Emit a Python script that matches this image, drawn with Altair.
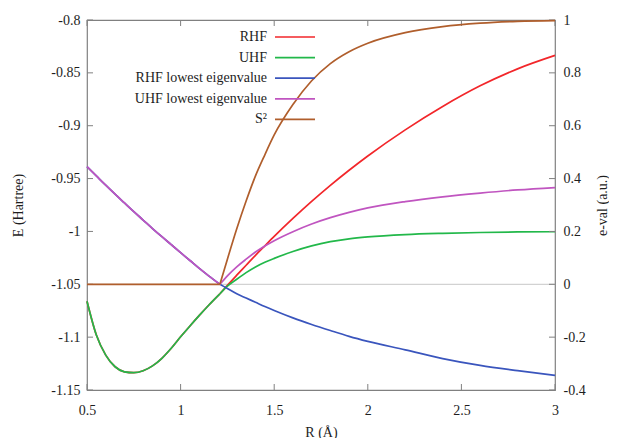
import altair as alt
import pandas as pd

# ---- data ----
R_before = [0.5, 0.55, 0.6, 0.65, 0.7, 0.75, 0.8, 0.85, 0.9, 0.95, 1.0, 1.05, 1.1, 1.15, 1.21]
R_after = [1.21, 1.25, 1.3, 1.35, 1.4, 1.45, 1.5, 1.6, 1.7, 1.8, 1.9, 2.0, 2.2, 2.4, 2.6, 2.8, 3.0]

# energies (Hartree) - left axis
scf_before = [-1.066, -1.098, -1.117, -1.128, -1.1328, -1.1336, -1.1318, -1.1272, -1.1200, -1.1105,
              -1.0997, -1.0894, -1.0794, -1.0698, -1.059]
rhf_after = [-1.059, -1.051, -1.0414, -1.032, -1.0226, -1.0136, -1.0047, -0.9877, -0.9716, -0.9564,
             -0.9421, -0.9286, -0.9039, -0.8818, -0.8623, -0.8462, -0.8335]
uhf_after = [-1.059, -1.0518, -1.0452, -1.0390, -1.0336, -1.0292, -1.0255, -1.019, -1.0137, -1.0097,
             -1.0070, -1.0052, -1.0030, -1.0018, -1.0010, -1.0005, -1.0003]

# eigenvalues / S^2 (a.u.) - right axis
eig_before = [0.445, 0.41, 0.375, 0.341, 0.308, 0.275, 0.243, 0.211, 0.180, 0.150, 0.120, 0.090,
              0.060, 0.032, 0.0]
rhf_eig_after = [0.0, -0.016, -0.036, -0.052, -0.068, -0.084, -0.099, -0.127, -0.152, -0.175,
                 -0.197, -0.216, -0.248, -0.281, -0.307, -0.327, -0.345]
uhf_eig_after = [0.0, 0.032, 0.066, 0.095, 0.122, 0.145, 0.165, 0.199, 0.228, 0.252, 0.272, 0.289,
                 0.313, 0.331, 0.345, 0.357, 0.366]
s2_before = [0.0] * 15
s2_after = [0.0, 0.095, 0.21, 0.315, 0.41, 0.49, 0.565, 0.68, 0.77, 0.835, 0.88, 0.912, 0.952,
            0.975, 0.988, 0.995, 0.998]

series_names = ["RHF", "UHF", "RHF lowest eigenvalue", "UHF lowest eigenvalue", "S²"]
series_colors = ["#f2262a", "#22b84a", "#3a55bd", "#c055c0", "#b05e2c"]

x_ticks = [0.5, 1, 1.5, 2, 2.5, 3]
left_ticks = [-0.8, -0.85, -0.9, -0.95, -1.0, -1.05, -1.1, -1.15]
right_ticks = [1.0, 0.8, 0.6, 0.4, 0.2, 0.0, -0.2, -0.4]


def seg_df(rb, vb, ra, va):
    a = pd.DataFrame({"R": rb, "val": vb, "seg": "a"})
    b = pd.DataFrame({"R": ra, "val": va, "seg": "b"})
    return pd.concat([a, b], ignore_index=True)


W, H = 468, 370
FONT = "Liberation Serif"
TXT = "#1e1e1e"
AX = "#808080"
LW = 1.7

x_scale = alt.Scale(domain=[0.5, 3], nice=False, zero=False)
left_scale = alt.Scale(domain=[-1.15, -0.8], nice=False, zero=False)
right_scale = alt.Scale(domain=[-0.4, 1.0], nice=False, zero=False)
fmt = "replace(format(datum.value, '~g'), '\u2212', '-')"

x_axis = alt.Axis(values=x_ticks, labelExpr=fmt, title="R (Å)", labelPadding=13, labelFlush=False,
                  titleX=W / 2, titleY=42, titleBaseline="middle", titleAlign="center")
left_axis = alt.Axis(values=left_ticks, labelExpr=fmt, title="E (Hartree)", orient="left",
                     labelPadding=7, labelFlush=False, titleX=-69, titleY=H / 2, titleAngle=270,
                     titleBaseline="middle", titleAlign="center")
right_axis = alt.Axis(values=right_ticks, labelExpr=fmt, title="e-val (a.u.)", orient="right",
                      labelPadding=8, labelFlush=False, titleX=47, titleY=H / 2, titleAngle=270,
                      titleBaseline="middle", titleAlign="center")


def line(df, color, scale, axis):
    return alt.Chart(df).mark_line(color=color, strokeWidth=LW, interpolate="monotone").encode(
        x=alt.X("R:Q", scale=x_scale, axis=x_axis),
        y=alt.Y("val:Q", scale=scale, axis=axis),
        detail="seg:N",
    )


zero_line = alt.Chart(pd.DataFrame({"val": [-1.05]})).mark_rule(color="#d2d2d2", strokeWidth=1.2).encode(
    y=alt.Y("val:Q", scale=left_scale, axis=left_axis))

bottom_ticks = alt.Chart(pd.DataFrame({"R": x_ticks})).mark_rule(color=AX).encode(
    x=alt.X("R:Q", scale=x_scale, axis=x_axis), y=alt.value(H), y2=alt.value(H - 6))
top_ticks = alt.Chart(pd.DataFrame({"R": x_ticks})).mark_rule(color=AX).encode(
    x=alt.X("R:Q", scale=x_scale, axis=x_axis), y=alt.value(0), y2=alt.value(6))
left_tick_marks = alt.Chart(pd.DataFrame({"val": left_ticks})).mark_rule(color=AX).encode(
    y=alt.Y("val:Q", scale=left_scale, axis=left_axis), x=alt.value(0), x2=alt.value(6))
right_tick_marks = alt.Chart(pd.DataFrame({"val": right_ticks})).mark_rule(color=AX).encode(
    y=alt.Y("val:Q", scale=right_scale, axis=right_axis), x=alt.value(W), x2=alt.value(W - 6))

left_group = alt.layer(
    zero_line,
    bottom_ticks,
    top_ticks,
    left_tick_marks,
    line(seg_df(R_before, scf_before, R_after, rhf_after), series_colors[0], left_scale, left_axis),
    line(seg_df(R_before, scf_before, R_after, uhf_after), series_colors[1], left_scale, left_axis),
)
right_group = alt.layer(
    right_tick_marks,
    line(seg_df(R_before, eig_before, R_after, rhf_eig_after), series_colors[2], right_scale, right_axis),
    line(seg_df(R_before, eig_before, R_after, uhf_eig_after), series_colors[3], right_scale, right_axis),
    line(seg_df(R_before, s2_before, R_after, s2_after), series_colors[4], right_scale, right_axis),
)

legend_layers = []
for i, (name, col) in enumerate(zip(series_names, series_colors)):
    yy = 17 + i * 20.6
    legend_layers.append(
        alt.Chart(pd.DataFrame({"label": [name]})).mark_text(
            align="right", baseline="middle", font=FONT, fontSize=14, color=TXT).encode(
            x=alt.value(180), y=alt.value(yy), text="label:N"))
    legend_layers.append(
        alt.Chart(pd.DataFrame({"label": [name]})).mark_rule(color=col, strokeWidth=LW).encode(
            x=alt.value(188), x2=alt.value(228), y=alt.value(yy)))

chart = alt.layer(left_group, right_group, *legend_layers).resolve_scale(y="independent").properties(
    width=W, height=H,
    autosize=alt.AutoSizeParams(type="none"),
    padding={"left": 79, "top": 12, "right": 54, "bottom": 48},
).configure_view(stroke=AX, strokeWidth=1.2).configure_axis(
    labelFont=FONT, titleFont=FONT, labelFontSize=14, titleFontSize=14,
    labelColor=TXT, titleColor=TXT, titleFontWeight="normal",
    grid=False, ticks=False, domain=False,
)

chart.save("out.html", embed_options={"renderer": "svg", "actions": False})
